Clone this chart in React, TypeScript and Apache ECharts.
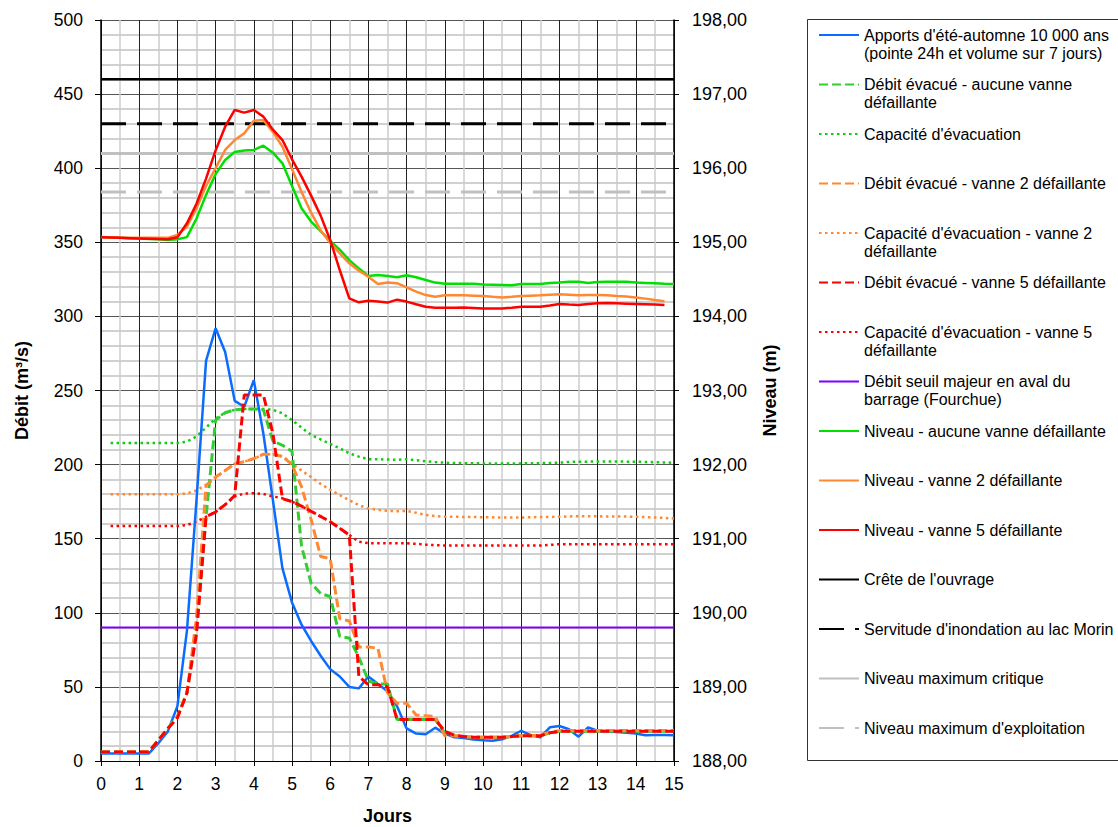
import React, { useEffect, useRef } from "react";
import * as echarts from "echarts";

// Time axis (days, 6-hour steps)
const days = [
  0, 0.25, 0.5, 0.75, 1, 1.25, 1.5, 1.75, 2, 2.25, 2.5, 2.75, 3, 3.25, 3.5, 3.75,
  4, 4.25, 4.5, 4.75, 5, 5.25, 5.5, 5.75, 6, 6.25, 6.5, 6.75, 7, 7.25, 7.5, 7.75,
  8, 8.25, 8.5, 8.75, 9, 9.25, 9.5, 9.75, 10, 10.25, 10.5, 10.75, 11, 11.25, 11.5, 11.75,
  12, 12.25, 12.5, 12.75, 13, 13.25, 13.5, 13.75, 14, 14.25, 14.5, 14.75, 15,
];

// Flows (m³/s) – left axis
const apports = [
  5, 5, 5, 5, 5, 5, 12, 20, 37, 88, 176, 270, 292, 276, 243, 239,
  257, 221, 176, 130, 107, 92, 81, 71, 62, 57, 50, 49, 57, 52, 47, 37,
  22, 18.5, 18, 22.5, 18.5, 16, 15.5, 14.5, 14, 13.7, 14.6, 17, 20.4, 17.4, 16, 22.7,
  23.6, 21.4, 16.4, 22.7, 20.4, 20, 19.5, 19, 18.6, 17.4, 17.5, 17.5, 17.4,
];
const evacAucune = [
  6, 6, 6, 6, 6, 6, 14, 22, 30, 46, 88, 165, 230, 235, 237, 237.5,
  237.5, 237, 216, 213, 209, 145, 120, 113, 111, 84, 83, 70, 54, 52, 52, 28,
  28, 28, 28, 28, 19, 17, 16.5, 16, 16, 16, 16, 16.5, 17, 17, 17, 19,
  20, 20, 20, 20, 20, 20, 20, 20, 20, 20, 20, 20, 20,
];
const capAucune = [
  null, 214.5, 214.5, 214.5, 214.5, 214.5, 214.5, 214.5, 214.5, 215.5, 219, 225, 231, 235, 237, 237.5,
  237.5, 237.5, 237, 234.6, 230, 225, 220, 217, 214, 211, 207.6, 205.4, 203.6, 203.6, 203.4, 203.2,
  203.6, 203, 202.2, 201.7, 201.3, 201, 201, 200.9, 200.8, 200.8, 200.8, 200.8, 200.8, 200.9, 201, 201.1,
  201.3, 201.8, 202, 202, 202.1, 202.1, 202.1, 202, 202, 201.8, 201.6, 201.4, 201.3,
];
const evacV2 = [
  6, 6, 6, 6, 6, 6, 14, 22, 30, 46, 97, 186, 191.6, 196, 200.6, 202,
  204, 207, 207, 205.5, 200, 185, 163, 138, 136.5, 96, 94.5, 77, 77, 76, 46, 39,
  39, 31, 30.5, 30, 17, 17, 16.5, 16, 16, 16, 16, 16.5, 17, 17, 17.5, 19.5,
  20.5, 20.5, 20.5, 20.5, 20.5, 20.5, 20.5, 20.5, 20.5, 20.5, 20.5, 20.5, 20.5,
];
const capV2 = [
  null, 180, 180, 180, 180, 180, 180, 180, 180, 180.5, 182.5, 186.4, 191, 196, 200.6, 202,
  204, 207, 207, 205.6, 200.6, 196, 191.6, 187, 183, 179.4, 176, 172.6, 170.4, 169.5, 168.8, 168.5,
  168.8, 167.5, 166, 165.3, 164.8, 164.8, 164.7, 164.6, 164.5, 164.4, 164.3, 164.3, 164.3, 164.5, 164.6, 164.7,
  164.8, 165, 165.2, 165.2, 165.1, 165, 165, 164.9, 164.8, 164.6, 164.3, 164, 163.7,
];
const evacV5 = [
  6, 6, 6, 6, 6, 6, 14, 22, 29, 46, 86, 165, 168, 173, 179, 247,
  247, 247, 221, 177, 175, 172, 168.5, 165, 161.5, 157, 152.5, 57, 51.5, 51.5, 50, 28,
  28, 28, 28, 28, 20, 17.4, 16.5, 16, 16, 16, 16, 16.5, 17, 17, 17, 19,
  20, 20, 20, 20, 20, 20, 20, 20, 20, 20, 20, 20, 20,
];
const capV5 = [
  null, 158.5, 158.5, 158.5, 158.5, 158.5, 158.5, 158.5, 158.5, 159.2, 161.5, 164.8, 168, 173, 178.5, 180.5,
  180.7, 180.2, 178.5, 177.3, 175, 172, 168.5, 165, 161.5, 157, 152.5, 148, 147, 147, 147, 147,
  147, 146.5, 146, 145.6, 145.4, 145.4, 145.4, 145.4, 145.4, 145.4, 145.4, 145.4, 145.4, 145.4, 145.4, 145.8,
  146.3, 146.3, 146.3, 146.3, 146.3, 146.3, 146.3, 146.3, 146.3, 146.3, 146.3, 146.3, 146.3,
];
const seuilMajeur = 90;

// Levels (m) – right axis
const niveauAucune = [
  195.07, 195.066, 195.06, 195.056, 195.05, 195.046, 195.04, 195.03, 195.04, 195.07, 195.32, 195.64, 195.92, 196.11, 196.22, 196.24,
  196.246, 196.304, 196.21, 196.066, 195.76, 195.46, 195.28, 195.15, 195.02, 194.9, 194.76, 194.648, 194.546, 194.558, 194.546, 194.528,
  194.554, 194.528, 194.492, 194.456, 194.442, 194.442, 194.442, 194.44, 194.432, 194.428, 194.424, 194.42, 194.438, 194.438, 194.438, 194.45,
  194.456, 194.468, 194.468, 194.452, 194.464, 194.468, 194.468, 194.466, 194.456, 194.452, 194.448, 194.44, 194.438,
];
const niveauV2 = [
  195.07, 195.066, 195.06, 195.06, 195.06, 195.06, 195.06, 195.06, 195.1, 195.21, 195.46, 195.76, 196.0, 196.246, 196.38, 196.47,
  196.64, 196.652, 196.49, 196.29, 195.99, 195.68, 195.4, 195.16, 194.992, 194.852, 194.716, 194.616, 194.536, 194.438, 194.456, 194.448,
  194.392, 194.334, 194.288, 194.266, 194.284, 194.284, 194.284, 194.28, 194.274, 194.264, 194.256, 194.264, 194.274, 194.28, 194.284, 194.292,
  194.298, 194.292, 194.284, 194.288, 194.288, 194.284, 194.274, 194.268, 194.256, 194.24, 194.22, 194.204, null,
];
const niveauV5 = [
  195.068, 195.064, 195.06, 195.056, 195.052, 195.048, 195.044, 195.04, 195.068, 195.256, 195.52, 195.86, 196.24, 196.56, 196.786, 196.75,
  196.786, 196.696, 196.52, 196.38, 196.12, 195.886, 195.63, 195.36, 195.032, 194.626, 194.244, 194.19, 194.212, 194.2, 194.186, 194.226,
  194.2, 194.164, 194.13, 194.118, 194.118, 194.118, 194.12, 194.114, 194.108, 194.108, 194.108, 194.118, 194.13, 194.13, 194.13, 194.148,
  194.168, 194.16, 194.154, 194.168, 194.176, 194.18, 194.176, 194.172, 194.168, 194.164, 194.16, 194.154, null,
];
const creteOuvrage = 197.2;
const servitudeMorin = 196.6;
const niveauMaxCritique = 196.2;
const niveauMaxExploitation = 195.68;
const refDays = [0, 15];

const names = [
  "Apports d'été-automne 10 000 ans\n(pointe 24h et volume sur 7 jours)",
  "Débit évacué - aucune vanne\ndéfaillante",
  "Capacité d'évacuation",
  "Débit évacué - vanne 2 défaillante",
  "Capacité d'évacuation - vanne 2\ndéfaillante",
  "Débit évacué - vanne 5 défaillante",
  "Capacité d'évacuation - vanne 5\ndéfaillante",
  "Débit seuil majeur en aval du\nbarrage (Fourchue)",
  "Niveau - aucune vanne défaillante",
  "Niveau - vanne 2 défaillante",
  "Niveau - vanne 5 défaillante",
  "Crête de l'ouvrage",
  "Servitude d'inondation au lac Morin",
  "Niveau maximum critique",
  "Niveau maximum d'exploitation",
];

const FONT = "Liberation Sans, Arial, sans-serif";

const pairs = (vals: (number | null)[]) => days.map((d, i) => [d, vals[i]]);
const flat = (v: number) => refDays.map((d) => [d, v]);

function line(name: string, data: any[], color: string, width: number, type: any, yAxisIndex = 0) {
  return {
    type: "line",
    name,
    data,
    yAxisIndex,
    symbol: "none",
    showSymbol: false,
    silent: true,
    lineStyle: { color, width, type, cap: "butt" },
    itemStyle: { color },
  };
}

export default function App() {
  const ref = useRef<HTMLDivElement>(null);
  useEffect(() => {
    const chart = echarts.init(ref.current!, null, { renderer: "svg" });
    const dash = [9, 4];
    const dot = [2.5, 3.5];
    const longDash = [25, 11];
    const nameStyle = { fontFamily: FONT, fontWeight: "bold", fontSize: 18, color: "#000" };
    const tickLabel = { fontFamily: FONT, fontSize: 17.5, color: "#000" };
    chart.setOption({
      animation: false,
      backgroundColor: "#ffffff",
      textStyle: { fontFamily: FONT },
      grid: {
        left: 101,
        right: 444,
        top: 20,
        bottom: 66,
        containLabel: false,
        outerBoundsMode: "none",
      },
      xAxis: {
        type: "value",
        min: 0,
        max: 15,
        interval: 1,
        name: "Jours",
        nameLocation: "middle",
        nameGap: 46,
        nameTextStyle: nameStyle,
        axisLine: { lineStyle: { color: "#000", width: 1 } },
        axisTick: { show: true, length: 5, lineStyle: { color: "#000" } },
        axisLabel: { ...tickLabel, margin: 14 },
        splitLine: { show: true, lineStyle: { color: "#222", width: 1 } },
        minorTick: { show: false, splitNumber: 2 },
        minorSplitLine: { show: true, lineStyle: { color: "#cccccc", width: 1.5 } },
      },
      yAxis: [
        {
          type: "value",
          min: 0,
          max: 500,
          interval: 50,
          position: "left",
          name: "Débit (m³/s)",
          nameLocation: "middle",
          nameGap: 70,
          nameTextStyle: nameStyle,
          axisLine: { show: true, lineStyle: { color: "#000", width: 1.5 } },
          axisTick: { show: true, length: 6, lineStyle: { color: "#000" } },
          axisLabel: { ...tickLabel, margin: 18 },
          splitLine: { show: true, lineStyle: { color: "#555", width: 1.2 } },
          minorTick: { show: false, splitNumber: 5 },
          minorSplitLine: { show: true, lineStyle: { color: "#d0d0d0", width: 1.8 } },
        },
        {
          type: "value",
          min: 188,
          max: 198,
          interval: 1,
          position: "right",
          name: "Niveau (m)",
          nameLocation: "middle",
          nameGap: 87,
          nameTextStyle: nameStyle,
          axisLine: { show: true, lineStyle: { color: "#000", width: 1.5 } },
          axisTick: { show: true, length: 5, lineStyle: { color: "#000" } },
          axisLabel: {
            ...tickLabel,
            fontSize: 18,
            margin: 18,
            formatter: (v: number) => v.toFixed(2).replace(".", ","),
          },
          splitLine: { show: false },
        },
      ],
      legend: {
        orient: "vertical",
        left: 818,
        top: 8,
        padding: 0,
        itemWidth: 40,
        itemHeight: 14,
        itemGap: -4.5,
        selectedMode: false,
        itemStyle: { opacity: 0 },
        textStyle: { fontFamily: FONT, fontSize: 16, lineHeight: 18, color: "#000" },
        formatter: (name: string) => "\n" + name + (name.indexOf("\n") >= 0 ? "" : "\n"),
        data: names,
      },
      graphic: [
        {
          type: "rect",
          shape: { x: 807.5, y: 19.5, width: 330, height: 741 },
          style: { fill: "none", stroke: "#333", lineWidth: 1 },
          silent: true,
        },
      ],
      series: [
        line(names[11], flat(creteOuvrage), "#000000", 2.5, "solid", 1),
        line(names[12], flat(servitudeMorin), "#000000", 3, longDash, 1),
        line(names[13], flat(niveauMaxCritique), "#c0c0c0", 3, "solid", 1),
        line(names[14], flat(niveauMaxExploitation), "#c0c0c0", 3, longDash, 1),
        line(names[7], flat(seuilMajeur), "#7f00ff", 2, "solid", 0),
        line(names[2], pairs(capAucune), "#11cc11", 2.5, dot, 0),
        line(names[4], pairs(capV2), "#ff8833", 2.5, dot, 0),
        line(names[6], pairs(capV5), "#ff0000", 2.5, dot, 0),
        line(names[0], pairs(apports), "#0a6cff", 2.5, "solid", 0),
        line(names[1], pairs(evacAucune), "#33cc33", 3, dash, 0),
        line(names[3], pairs(evacV2), "#ff8833", 3, dash, 0),
        line(names[5], pairs(evacV5), "#ff0000", 3, dash, 0),
        line(names[8], pairs(niveauAucune), "#00e000", 2.5, "solid", 1),
        line(names[9], pairs(niveauV2), "#ff8833", 2.5, "solid", 1),
        line(names[10], pairs(niveauV5), "#ff0000", 2.5, "solid", 1),
      ],
    });
    return () => chart.dispose();
  }, []);
  return (
    <div
      ref={ref}
      style={{ position: "absolute", left: 0, top: 0, width: 1118, height: 827, background: "#fff" }}
    />
  );
}
